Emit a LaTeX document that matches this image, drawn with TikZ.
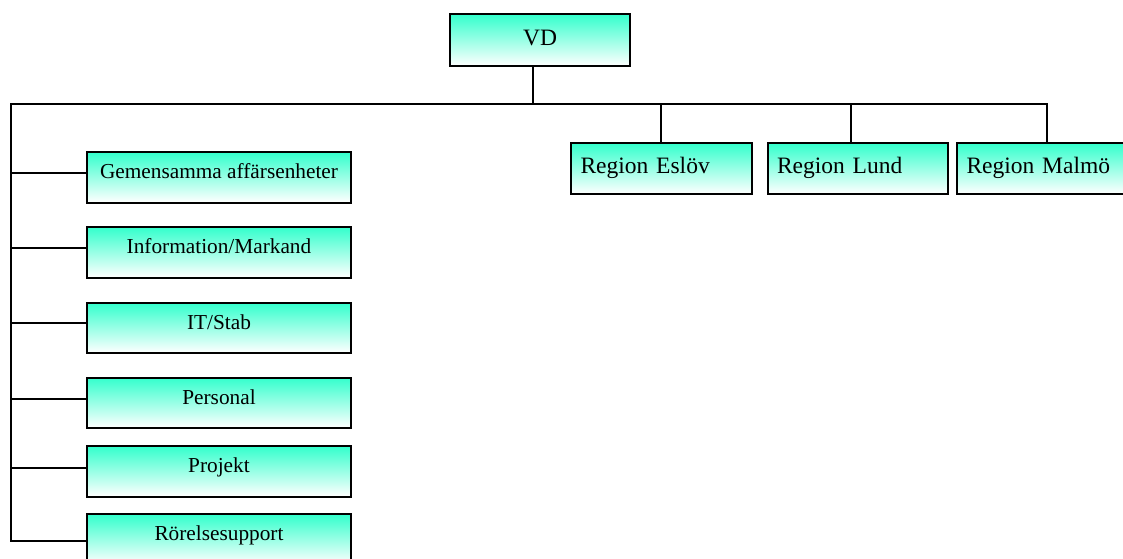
\documentclass[tikz,border=0pt]{standalone}
\usepackage{fontspec}
\setmainfont{Liberation Serif}
\usetikzlibrary{shadows}
\definecolor{turq}{RGB}{51,255,204}
\tikzset{
  box/.style={draw=black, line width=2pt, rectangle, inner sep=0pt, outer sep=0pt,
    top color=turq, bottom color=white, anchor=north west,
    drop shadow={shadow xshift=1pt, shadow yshift=-1pt, fill=black!35, opacity=1}},
  leftbox/.style={box, minimum width=264pt, minimum height=50.5pt,
    font=\fontsize{21.3}{25}\selectfont, text height=7pt, text depth=3.9pt},
  regbox/.style={box, minimum width=180.5pt, minimum height=51pt,
    font=\fontsize{23.5}{28}\selectfont, text height=10.6pt, text depth=0pt,
    inner xsep=9.5pt, text width=161.5pt, align=left},
  vdbox/.style={box, minimum width=180pt, minimum height=52pt,
    font=\fontsize{23.5}{28}\selectfont, text height=11.6pt, text depth=0pt},
  conn/.style={draw=black, line width=1.6pt}
}
\begin{document}
\begin{tikzpicture}[x=1pt, y=-1pt]
\useasboundingbox (0,0) rectangle (1123,558);
\clip (0,0) rectangle (1123,558);
\fill[white] (0,0) rectangle (1123,558);

% top
\node[vdbox] (vd) at (450,14) {VD};

% regions
\node[regbox] (eslov) at (571,143) {Region Eslöv};
\node[regbox] (lund) at (767.5,143) {Region Lund};
\node[regbox] (malmo) at (957,143) {Region Malmö};

% left column
\node[leftbox] (g1) at (87,152) {Gemensamma affärsenheter};
\node[leftbox] (g2) at (87,227) {Information/Markand};
\node[leftbox] (g3) at (87,302.5) {IT/Stab};
\node[leftbox] (g4) at (87,377.5) {Personal};
\node[leftbox] (g5) at (87,446) {Projekt};
\node[leftbox] (g6) at (87,514) {Rörelsesupport};

% trunk coordinates
\coordinate (top) at (533,104);
\coordinate (tl) at (11,104);

\coordinate (s1) at ([yshift=4pt]g1.west);
\coordinate (s2) at ([yshift=4pt]g2.west);
\coordinate (s3) at ([yshift=4.5pt]g3.west);
\coordinate (s4) at ([yshift=4pt]g4.west);
\coordinate (s5) at ([yshift=3.5pt]g5.west);
\coordinate (s6) at ([yshift=-1.5pt]g6.west);

\draw[conn] (vd.south -| top) -- (top);
\draw[conn] (s6) -| (tl) -| (malmo.north);
\draw[conn] (eslov.north |- top) -- (eslov.north);
\coordinate (lundtop) at ([xshift=-7pt]lund.north);
\draw[conn] (lundtop |- top) -- (lundtop);

\foreach \s in {s1,s2,s3,s4,s5} {
  \draw[conn] (tl |- \s) -- (\s);
}
\end{tikzpicture}
\end{document}
